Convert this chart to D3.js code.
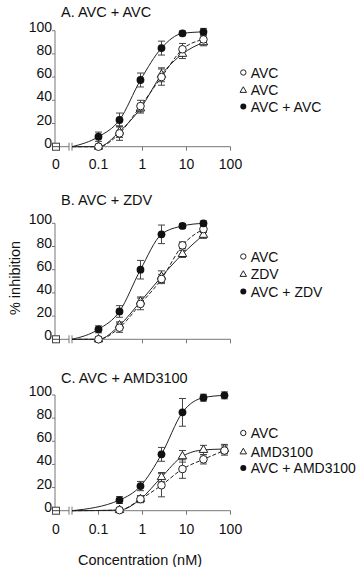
<!DOCTYPE html>
<html><head><meta charset="utf-8">
<script src="https://cdn.jsdelivr.net/npm/d3@7"></script>
<style>html,body{margin:0;padding:0;background:#fff;}svg{display:block;font-family:"Liberation Sans",Arial,sans-serif;}</style>
</head><body>
<svg id="c" width="360" height="567"></svg>
<script>
// ---- data ----
const titles = ["A. AVC + AVC", "B. AVC + ZDV", "C. AVC + AMD3100"];
const legendOpen = ["AVC", "AVC", "AVC"];
const legendTri = ["AVC", "ZDV", "AMD3100"];
const legendCombo = ["AVC + AVC", "AVC + ZDV", "AVC + AMD3100"];
const yTicks = [0, 20, 40, 60, 80, 100];
const xTicks = [0.1, 1, 10, 100];
const xTickLabels = ["0", "0.1", "1", "10", "100"];

const concAB = [0.1, 0.3, 0.9, 2.7, 8.1, 24.3];
const concC = [0.3, 0.9, 2.7, 8.1, 24.3, 72.9];

const A_combo = [8.6, 23, 57.5, 85, 97.7, 99];
const A_comboErr = [4, 6, 6, 6, 2, 3];
const A_open = [0, 11.5, 35, 60, 84, 92.5];
const A_openErr = [2, 6, 5, 7, 5, 4];
const A_tri = [0, 13, 33, 62, 80, 90];
const A_triErr = [2, 5, 4, 6, 4, 3];

const B_combo = [8.6, 24, 60, 90.5, 97.7, 100];
const B_comboErr = [3, 5, 8, 8, 2, 2];
const B_open = [0, 10, 30.5, 52, 81, 95];
const B_openErr = [2, 4, 5, 4, 3, 3];
const B_tri = [0, 12, 32.5, 54, 73.5, 90];
const B_triErr = [2, 3, 4, 5, 3, 3];

const C_combo = [9.2, 21.3, 48.7, 85, 97.7, 99.7];
const C_comboErr = [3, 4, 6, 12, 3, 3];
const C_tri = [0.5, 10, 29, 47, 52.5, 53.3];
const C_triErr = [2, 3, 4, 5, 4, 4];
const C_open = [0.5, 10, 22, 36, 44.4, 52];
const C_openErr = [2, 3, 10, 8, 4, 4];

const zeroDose = [0, 0, 0]; // inhibition at 0 nM
const curveStartConc = 0.025;

const panels = [
  {conc: concAB, combo: A_combo, comboErr: A_comboErr, open: A_open, openErr: A_openErr, tri: A_tri, triErr: A_triErr,
   y0: 146.7, y100: 30.7, titleY: 17, legY: [77.5, 95, 111.5], xLabels: true, labY: 168.5},
  {conc: concAB, combo: B_combo, comboErr: B_comboErr, open: B_open, openErr: B_openErr, tri: B_tri, triErr: B_triErr,
   y0: 339.3, y100: 223.3, titleY: 205, legY: [261.5, 279, 296.5], xLabels: false},
  {conc: concC, combo: C_combo, comboErr: C_comboErr, open: C_open, openErr: C_openErr, tri: C_tri, triErr: C_triErr,
   y0: 510.7, y100: 395, titleY: 383, legY: [438, 456.5, 473], xLabels: true, labY: 533.5}
];

const svg = d3.select("#c");
const axisCol = "#777";
const x = d3.scaleLog().domain([curveStartConc, 100]).range([72, 230.5]);
const xZero = 56;

function triPath(cx, cy, s) {
  const h = s * Math.sqrt(3) / 2;
  return `M${cx},${cy - h * 2 / 3}L${cx + s / 2},${cy + h / 3}L${cx - s / 2},${cy + h / 3}Z`;
}

panels.forEach((p, i) => {
  const g = svg.append("g");
  const y = d3.scaleLinear().domain([0, 100]).range([p.y0, p.y100]);

  // title
  g.append("text").attr("x", 61).attr("y", p.titleY).attr("font-size", 14.5).attr("fill", "#111").text(titles[i]);

  // y axis
  g.append("line").attr("x1", xZero - 1).attr("x2", xZero - 1).attr("y1", y(100)).attr("y2", y(0) - 3)
    .attr("stroke", axisCol).attr("stroke-width", 1);
  yTicks.forEach(t => {
    g.append("line").attr("x1", xZero - 4).attr("x2", xZero - 1).attr("y1", y(t)).attr("y2", y(t))
      .attr("stroke", axisCol);
    g.append("text").attr("x", xZero - 4).attr("y", y(t) + 1).attr("text-anchor", "end")
      .attr("font-size", 14).attr("fill", "#111").text(t);
  });

  // x axis: zero segment with break, then main log axis
  g.append("line").attr("x1", xZero - 3).attr("x2", 69).attr("y1", y(0)).attr("y2", y(0)).attr("stroke", axisCol);
  g.append("line").attr("x1", 69).attr("x2", 69).attr("y1", y(0) - 4).attr("y2", y(0) + 4).attr("stroke", axisCol);
  g.append("line").attr("x1", x.range()[0]).attr("x2", x.range()[0]).attr("y1", y(0) - 4).attr("y2", y(0) + 4).attr("stroke", axisCol);
  g.append("line").attr("x1", x.range()[0]).attr("x2", x.range()[1]).attr("y1", y(0)).attr("y2", y(0)).attr("stroke", axisCol);
  xTicks.forEach(t => {
    g.append("line").attr("x1", x(t)).attr("x2", x(t)).attr("y1", y(0)).attr("y2", y(0) + 4).attr("stroke", axisCol);
  });
  if (p.xLabels) {
    const pos = [xZero].concat(xTicks.map(t => x(t)));
    xTickLabels.forEach((l, k) => {
      g.append("text").attr("x", pos[k]).attr("y", p.labY).attr("text-anchor", "middle")
        .attr("font-size", 14).attr("fill", "#111").text(l);
    });
  }

  // curves
  const line = d3.line().x(d => x(d[0])).y(d => y(d[1])).curve(d3.curveMonotoneX);
  const series = [
    {vals: p.tri, dash: null},
    {vals: p.open, dash: "4,2"},
    {vals: p.combo, dash: null}
  ];
  series.forEach(s => {
    const pts = [[curveStartConc, 0]].concat(p.conc.map((c, k) => [c, s.vals[k]]));
    g.append("path").attr("d", line(pts)).attr("fill", "none").attr("stroke", "#222")
      .attr("stroke-width", 1).attr("stroke-dasharray", s.dash);
  });

  // error bars
  const errSets = [[p.tri, p.triErr], [p.open, p.openErr], [p.combo, p.comboErr]];
  errSets.forEach(([v, e]) => {
    p.conc.forEach((c, k) => {
      const cx = x(c), a = y(v[k] + e[k]), b = y(v[k] - e[k]);
      g.append("line").attr("x1", cx).attr("x2", cx).attr("y1", a).attr("y2", b).attr("stroke", "#444");
      [a, b].forEach(yy => g.append("line").attr("x1", cx - 3.5).attr("x2", cx + 3.5).attr("y1", yy).attr("y2", yy).attr("stroke", "#444"));
    });
  });

  // markers
  p.conc.forEach((c, k) => {
    g.append("path").attr("d", triPath(x(c), y(p.tri[k]), 8.5)).attr("fill", "#fff").attr("stroke", "#222").attr("stroke-width", 1);
  });
  p.conc.forEach((c, k) => {
    g.append("circle").attr("cx", x(c)).attr("cy", y(p.open[k])).attr("r", 3.8).attr("fill", "#fff").attr("stroke", "#222").attr("stroke-width", 1);
  });
  p.conc.forEach((c, k) => {
    g.append("circle").attr("cx", x(c)).attr("cy", y(p.combo[k])).attr("r", 3.9).attr("fill", "#111");
  });

  // zero dose point
  const zy = y(zeroDose[i]);
  g.append("line").attr("x1", xZero - 4).attr("x2", xZero + 4).attr("y1", zy - 3).attr("y2", zy - 3).attr("stroke", "#444");
  g.append("line").attr("x1", xZero - 4).attr("x2", xZero + 4).attr("y1", zy + 3).attr("y2", zy + 3).attr("stroke", "#444");
  g.append("rect").attr("x", xZero - 3.5).attr("y", zy - 3.5).attr("width", 7).attr("height", 7)
    .attr("fill", "#fff").attr("stroke", "#444");
  g.append("line").attr("x1", xZero - 3.5).attr("x2", xZero + 3.5).attr("y1", zy).attr("y2", zy).attr("stroke", "#444");

  // legend
  const lx = 243.3, tx = 250.7;
  g.append("circle").attr("cx", lx).attr("cy", p.legY[0] - 5).attr("r", 2.7).attr("fill", "#fff").attr("stroke", "#222");
  g.append("path").attr("d", triPath(lx, p.legY[1] - 4.5, 6.5)).attr("fill", "#fff").attr("stroke", "#222");
  g.append("circle").attr("cx", lx).attr("cy", p.legY[2] - 5).attr("r", 3).attr("fill", "#111");
  [legendOpen[i], legendTri[i], legendCombo[i]].forEach((t, k) => {
    g.append("text").attr("x", tx).attr("y", p.legY[k]).attr("font-size", 14).attr("fill", "#111").text(t);
  });
});

// shared axis titles
svg.append("text").attr("transform", "translate(20,278) rotate(-90)").attr("text-anchor", "middle")
  .attr("font-size", 14.5).attr("fill", "#111").text("% inhibition");
svg.append("text").attr("x", 140).attr("y", 565).attr("text-anchor", "middle")
  .attr("font-size", 14.5).attr("fill", "#111").text("Concentration (nM)");
</script>
</body></html>
